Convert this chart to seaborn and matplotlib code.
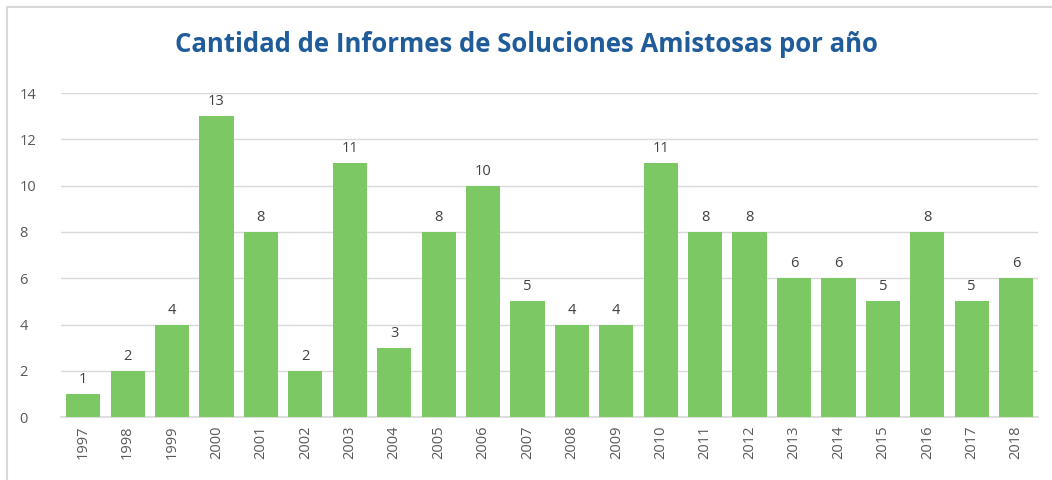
import seaborn as sns
import matplotlib.pyplot as plt
import pandas as pd
from matplotlib.lines import Line2D

# Data
years = [str(y) for y in range(1997, 2019)]
counts = [1, 2, 4, 13, 8, 2, 11, 3, 8, 10, 5, 4, 4, 11, 8, 8, 6, 6, 5, 8, 5, 6]
yticks = [0, 2, 4, 6, 8, 10, 12, 14]

df = pd.DataFrame({'year': years, 'count': counts})

sns.set_theme(style='white')
plt.rcParams['font.family'] = ['Open Sans', 'DejaVu Sans']

fig = plt.figure(figsize=(10.52, 4.8), dpi=100)
ax = fig.add_axes([0.058, 0.131, 0.929, 0.675])

# light outer frame of the chart area (top and left edges visible)
fx, fy = 7 / 1052, 1 - 7 / 480
fig.add_artist(Line2D([fx, 1], [fy, fy], transform=fig.transFigure,
                      color='#d9d9d9', linewidth=1.5))
fig.add_artist(Line2D([fx, fx], [0, fy], transform=fig.transFigure,
                      color='#d9d9d9', linewidth=1.5))

sns.barplot(data=df, x='year', y='count', color='#7cc864', width=0.77,
            saturation=1, linewidth=0, ax=ax, zorder=3)

for i, v in enumerate(counts):
    ax.text(i, v + 0.3, str(v), ha='center', va='bottom',
            fontsize=10.5, color='#404040')

ax.set_ylim(0, 14)
ax.set_xlim(-0.5, len(years) - 0.5)
ax.set_yticks(yticks)
ax.yaxis.grid(True, color='#d9d9d9', linewidth=1, zorder=0)
ax.set_axisbelow(True)
for s in ['top', 'right', 'left']:
    ax.spines[s].set_visible(False)
ax.spines['bottom'].set_color('#d9d9d9')
ax.tick_params(axis='y', length=0, labelsize=10.5, labelcolor='#595959', pad=30)
ax.tick_params(axis='x', length=0, labelsize=10.5, labelcolor='#595959', rotation=90, pad=6)
for lab in ax.get_yticklabels():
    lab.set_horizontalalignment('left')
ax.set_xlabel('')
ax.set_ylabel('')

fig.text(0.5, 1 - 45 / 480, 'Cantidad de Informes de Soluciones Amistosas por año',
         ha='center', va='center', fontsize=18.5, fontweight='bold', color='#1f5c99')

fig.savefig('out.png', dpi=100)
